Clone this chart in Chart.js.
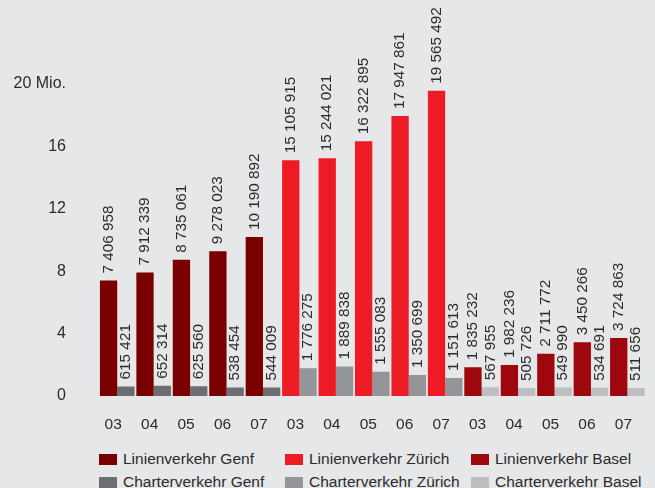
<!DOCTYPE html>
<html>
<head>
<meta charset="utf-8">
<script src="https://cdn.jsdelivr.net/npm/chart.js@4.4.0/dist/chart.umd.min.js"></script>
<style>
  html, body { margin: 0; padding: 0; background: #e6e7e8; }
  #wrap { position: relative; width: 655px; height: 488px; overflow: hidden; font-family: "Liberation Sans", Arial, Helvetica, sans-serif; }
  #chartBox { position: absolute; left: 0; top: 0; width: 655px; height: 440px; }
  .leg { position: absolute; font-size: 15.5px; color: #2b2b2b; line-height: 18px; white-space: nowrap; }
  .leg span { display: inline-block; width: 18px; height: 11px; margin-right: 6px; vertical-align: -1px; }
</style>
</head>
<body>
<div id="wrap">
  <div id="chartBox"><canvas id="chart"></canvas></div>
  <div id="legend"></div>
</div>
<script>
const years = ['03', '04', '05', '06', '07'];
const genfLinien = [7406958, 7912339, 8735061, 9278023, 10190892];
const genfCharter = [615421, 652314, 625560, 538454, 544009];
const zuerichLinien = [15105915, 15244021, 16322895, 17947861, 19565492];
const zuerichCharter = [1776275, 1889838, 1555083, 1350699, 1151613];
const baselLinien = [1835232, 1982236, 2711772, 3450266, 3724863];
const baselCharter = [567955, 505726, 549990, 534691, 511656];
const yTicks = [0, 4, 8, 12, 16, 20];

const linienColors = ['#7a0000', '#ed1c24', '#9e070e'];
const charterColors = ['#6d6e71', '#939598', '#bcbec0'];
const legendNames = [
  ['Linienverkehr Genf', 'Linienverkehr Zürich', 'Linienverkehr Basel'],
  ['Charterverkehr Genf', 'Charterverkehr Zürich', 'Charterverkehr Basel']
];

const labels = [...years, ...years, ...years];
const linien = [...genfLinien, ...zuerichLinien, ...baselLinien];
const charter = [...genfCharter, ...zuerichCharter, ...baselCharter];
const perGroup = colors => colors.flatMap(c => years.map(() => c));

const font = '"Liberation Sans", Arial, Helvetica, sans-serif';
const textColor = '#2b2b2b';

function fmt(v) {
  return String(v).replace(/\B(?=(\d{3})+(?!\d))/g, ' ');
}

// rotated value labels above every bar
const valueLabels = {
  id: 'valueLabels',
  afterDatasetsDraw(chart) {
    const ctx = chart.ctx;
    ctx.save();
    ctx.font = '15.3px ' + font;
    ctx.fillStyle = textColor;
    ctx.textAlign = 'left';
    ctx.textBaseline = 'middle';
    chart.data.datasets.forEach((ds, i) => {
      chart.getDatasetMeta(i).data.forEach((bar, j) => {
        ctx.save();
        ctx.translate(bar.x, bar.y - 7);
        ctx.rotate(-Math.PI / 2);
        ctx.fillText(fmt(ds.data[j]), 0, 0);
        ctx.restore();
      });
    });
    ctx.restore();
  }
};

new Chart(document.getElementById('chart'), {
  type: 'bar',
  data: {
    labels,
    datasets: [
      { label: 'Linienverkehr', data: linien, backgroundColor: perGroup(linienColors), borderWidth: 0 },
      { label: 'Charterverkehr', data: charter, backgroundColor: perGroup(charterColors), borderWidth: 0 }
    ]
  },
  options: {
    responsive: true,
    maintainAspectRatio: false,
    animation: false,
    categoryPercentage: 0.95,
    barPercentage: 1,
    layout: { padding: { top: 84, right: 0, left: 0, bottom: 0 } },
    plugins: { legend: { display: false }, tooltip: { enabled: false } },
    scales: {
      x: {
        grid: { display: false, drawTicks: false },
        border: { display: false },
        ticks: { color: textColor, font: { family: font, size: 15.5 }, padding: 19, labelOffset: -4, maxRotation: 0, autoSkip: false },
        afterFit(scale) { scale.height = 44; }
      },
      y: {
        min: 0,
        max: 20000000,
        grid: { display: false, drawTicks: false },
        border: { display: false },
        afterBuildTicks(scale) { scale.ticks = yTicks.map(v => ({ value: v * 1000000 })); },
        ticks: {
          color: textColor,
          font: { family: font, size: 16 },
          padding: 33,
          callback(value) {
            const m = value / 1000000;
            return m === 20 ? '20 Mio.' : String(m);
          }
        },
        afterFit(scale) { scale.width = 99; }
      }
    }
  },
  plugins: [valueLabels]
});

const legend = document.getElementById('legend');
const colX = [99, 285, 471];
const rowY = [450, 473];
[linienColors, charterColors].forEach((colors, r) => {
  colors.forEach((c, k) => {
    const item = document.createElement('div');
    item.className = 'leg';
    item.style.left = colX[k] + 'px';
    item.style.top = rowY[r] + 'px';
    item.innerHTML = '<span style="background:' + c + '"></span>' + legendNames[r][k];
    legend.appendChild(item);
  });
});
</script>
</body>
</html>
